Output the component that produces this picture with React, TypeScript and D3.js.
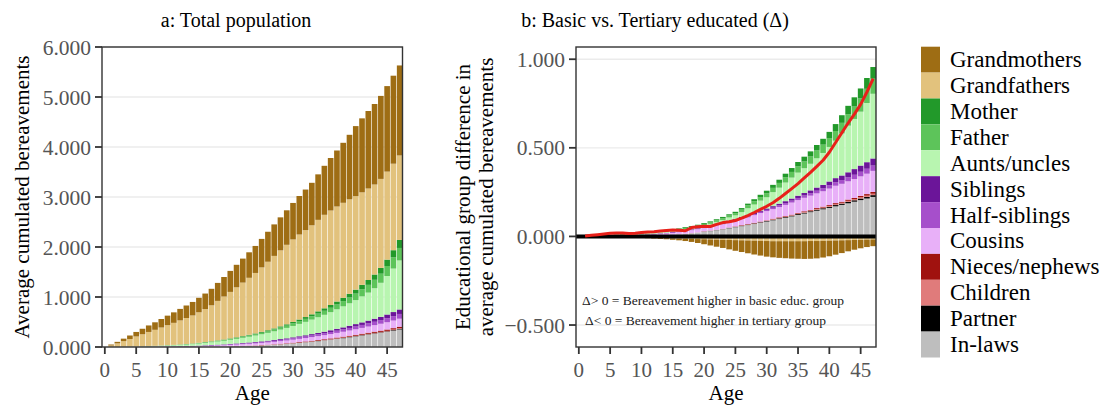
import React from "react";
import * as d3 from "d3";

// ---------- DATA ----------
const ages = [1,2,3,4,5,6,7,8,9,10,11,12,13,14,15,16,17,18,19,20,21,22,23,24,25,26,27,28,29,30,31,32,33,34,35,36,37,38,39,40,41,42,43,44,45,46,47];

const categories = ["Grandmothers","Grandfathers","Mother","Father","Aunts/uncles","Siblings","Half-siblings","Cousins","Nieces/nephews","Children","Partner","In-laws"];
const colors = ["#9E6D14","#E2C27D","#22992A","#5DC45A","#B8F5B0","#6B1599","#A64FCB","#E8B0F8","#A0120F","#E07B7B","#000000","#BEBEBE"];

const xTicks = [0,5,10,15,20,25,30,35,40,45];
const yTicksA = [0,1,2,3,4,5,6];
const yTicksB = [-0.5,0,0.5,1];

// Panel a: total population
const grandmothersA = [0.02,0.03,0.05,0.07,0.09,0.11,0.13,0.15,0.17,0.19,0.21,0.23,0.25,0.27,0.29,0.31,0.33,0.36,0.39,0.42,0.45,0.48,0.51,0.54,0.57,0.6,0.63,0.66,0.69,0.73,0.77,0.81,0.85,0.91,0.98,1.05,1.12,1.2,1.29,1.4,1.48,1.55,1.61,1.66,1.71,1.76,1.8];
const grandfathersA = [0.03,0.07,0.11,0.15,0.2,0.24,0.28,0.32,0.36,0.4,0.44,0.48,0.52,0.56,0.61,0.66,0.72,0.79,0.86,0.93,1.0,1.07,1.14,1.21,1.29,1.37,1.45,1.52,1.59,1.65,1.7,1.74,1.78,1.83,1.87,1.89,1.9,1.9,1.89,1.87,1.85,1.83,1.8,1.78,1.76,1.73,1.69];
const motherA = [0,0,0.001,0.001,0.001,0.001,0.002,0.002,0.002,0.003,0.003,0.004,0.004,0.005,0.005,0.006,0.007,0.008,0.009,0.01,0.011,0.012,0.014,0.015,0.017,0.019,0.021,0.024,0.027,0.03,0.033,0.036,0.04,0.045,0.05,0.055,0.06,0.066,0.073,0.08,0.088,0.097,0.106,0.116,0.128,0.142,0.16];
const fatherA = [0,0.001,0.001,0.002,0.002,0.002,0.003,0.003,0.004,0.005,0.005,0.006,0.007,0.008,0.01,0.011,0.012,0.014,0.016,0.018,0.02,0.022,0.025,0.027,0.03,0.033,0.037,0.041,0.045,0.05,0.055,0.06,0.066,0.073,0.08,0.088,0.096,0.105,0.116,0.13,0.142,0.155,0.168,0.182,0.2,0.225,0.25];
const auntsA = [0,0.001,0.002,0.003,0.004,0.006,0.008,0.01,0.013,0.016,0.02,0.024,0.029,0.035,0.041,0.048,0.055,0.063,0.072,0.082,0.092,0.103,0.115,0.128,0.142,0.157,0.173,0.19,0.208,0.227,0.247,0.268,0.29,0.313,0.337,0.362,0.39,0.42,0.45,0.48,0.52,0.56,0.61,0.68,0.77,0.87,0.98];
const siblingsA = [0,0,0.001,0.001,0.001,0.001,0.002,0.002,0.002,0.003,0.003,0.004,0.004,0.005,0.006,0.007,0.007,0.008,0.009,0.01,0.011,0.012,0.013,0.014,0.015,0.016,0.017,0.019,0.02,0.022,0.024,0.026,0.028,0.03,0.032,0.035,0.038,0.041,0.044,0.048,0.052,0.056,0.061,0.066,0.075,0.082,0.09];
const halfSiblingsA = [0,0,0.001,0.001,0.001,0.002,0.002,0.002,0.003,0.003,0.004,0.004,0.005,0.005,0.006,0.007,0.008,0.009,0.01,0.011,0.012,0.013,0.014,0.016,0.017,0.019,0.021,0.022,0.024,0.026,0.028,0.03,0.032,0.035,0.038,0.041,0.044,0.047,0.051,0.055,0.059,0.063,0.068,0.073,0.08,0.088,0.095];
const cousinsA = [0,0.001,0.001,0.002,0.002,0.003,0.004,0.005,0.006,0.007,0.008,0.01,0.011,0.013,0.015,0.017,0.019,0.022,0.024,0.027,0.03,0.033,0.036,0.039,0.042,0.045,0.049,0.052,0.056,0.06,0.064,0.068,0.073,0.077,0.082,0.087,0.093,0.098,0.104,0.11,0.116,0.123,0.13,0.137,0.145,0.152,0.16];
const niecesA = [0,0,0,0,0,0,0,0,0,0,0,0,0,0,0.001,0.001,0.002,0.002,0.002,0.003,0.003,0.004,0.004,0.005,0.006,0.006,0.007,0.008,0.009,0.01,0.011,0.012,0.013,0.014,0.015,0.016,0.017,0.018,0.019,0.02,0.021,0.022,0.024,0.025,0.027,0.028,0.03];
const childrenA = [0,0,0,0,0,0,0,0,0,0,0,0,0,0,0,0,0,0,0,0.001,0.001,0.001,0.001,0.001,0.002,0.002,0.002,0.003,0.003,0.004,0.004,0.004,0.005,0.005,0.006,0.006,0.007,0.007,0.008,0.008,0.009,0.01,0.01,0.011,0.012,0.012,0.013];
const partnerA = [0,0,0,0,0,0,0,0,0,0,0,0,0,0,0,0,0,0,0,0,0,0,0,0,0.001,0.001,0.001,0.002,0.002,0.002,0.003,0.003,0.003,0.004,0.004,0.005,0.005,0.006,0.006,0.007,0.008,0.008,0.009,0.01,0.011,0.012,0.013];
const inLawsA = [0,0,0,0,0,0,0,0,0,0,0,0,0,0,0,0.002,0.004,0.006,0.008,0.01,0.014,0.018,0.022,0.026,0.03,0.037,0.044,0.052,0.06,0.07,0.081,0.092,0.104,0.117,0.13,0.145,0.16,0.176,0.193,0.21,0.228,0.246,0.264,0.282,0.3,0.325,0.35];

// Panel b: basic minus tertiary (difference)
const grandmothersB = [0,0,0,0,0,0,-0.001,-0.001,-0.002,-0.002,-0.003,-0.004,-0.005,-0.006,-0.008,-0.01,-0.013,-0.017,-0.022,-0.028,-0.034,-0.04,-0.046,-0.053,-0.06,-0.066,-0.072,-0.078,-0.083,-0.088,-0.091,-0.094,-0.096,-0.098,-0.099,-0.1,-0.1,-0.098,-0.094,-0.088,-0.08,-0.072,-0.063,-0.055,-0.048,-0.042,-0.038];
const grandfathersB = [0,0,0,0,-0.001,-0.002,-0.003,-0.004,-0.005,-0.006,-0.007,-0.008,-0.009,-0.01,-0.011,-0.012,-0.013,-0.014,-0.015,-0.016,-0.017,-0.018,-0.019,-0.02,-0.021,-0.022,-0.023,-0.024,-0.025,-0.026,-0.027,-0.027,-0.027,-0.027,-0.027,-0.027,-0.026,-0.026,-0.025,-0.024,-0.023,-0.022,-0.021,-0.02,-0.019,-0.018,-0.017];
const motherB = [0,0,0.001,0.001,0.001,0.002,0.002,0.002,0.003,0.003,0.003,0.003,0.004,0.004,0.004,0.004,0.005,0.005,0.005,0.005,0.006,0.006,0.007,0.007,0.008,0.009,0.01,0.012,0.013,0.015,0.017,0.018,0.02,0.022,0.025,0.027,0.029,0.031,0.033,0.035,0.039,0.043,0.047,0.052,0.056,0.061,0.066];
const fatherB = [0,0.001,0.001,0.001,0.002,0.002,0.003,0.003,0.003,0.004,0.004,0.004,0.005,0.005,0.005,0.006,0.006,0.006,0.007,0.007,0.008,0.009,0.01,0.011,0.012,0.014,0.016,0.018,0.02,0.022,0.024,0.027,0.03,0.032,0.035,0.038,0.041,0.044,0.047,0.05,0.055,0.06,0.065,0.07,0.075,0.08,0.085];
const auntsB = [0.001,0,0.001,0.002,0.002,0.002,0.003,0.005,0.005,0.006,0.007,0.007,0.006,0.007,0.007,0.006,0.006,0.007,0.007,0.008,0.009,0.012,0.015,0.018,0.02,0.027,0.039,0.047,0.056,0.063,0.079,0.09,0.105,0.118,0.13,0.14,0.15,0.165,0.18,0.195,0.211,0.237,0.263,0.283,0.304,0.334,0.365];
const siblingsB = [0,0,0,0,0.001,0.001,0.001,0.001,0.001,0.002,0.002,0.002,0.002,0.002,0.003,0.003,0.003,0.003,0.003,0.004,0.004,0.004,0.005,0.005,0.005,0.006,0.006,0.007,0.007,0.008,0.009,0.01,0.011,0.012,0.013,0.014,0.016,0.018,0.02,0.022,0.024,0.026,0.029,0.032,0.035,0.037,0.04];
const halfSiblingsB = [0,0,0,0,0,0,0.001,0.001,0.001,0.001,0.001,0.002,0.002,0.002,0.002,0.002,0.003,0.003,0.003,0.003,0.004,0.004,0.004,0.005,0.005,0.005,0.006,0.006,0.007,0.007,0.008,0.009,0.01,0.011,0.012,0.013,0.014,0.015,0.016,0.018,0.019,0.021,0.022,0.024,0.026,0.028,0.03];
const cousinsB = [0,0,0.001,0.001,0.001,0.002,0.002,0.002,0.003,0.004,0.005,0.006,0.008,0.009,0.01,0.012,0.014,0.016,0.018,0.019,0.021,0.024,0.026,0.029,0.032,0.035,0.038,0.043,0.048,0.052,0.054,0.058,0.063,0.068,0.072,0.076,0.08,0.083,0.087,0.093,0.098,0.101,0.103,0.107,0.11,0.115,0.119];
const niecesB = [0,0,0,0,0,0,0,0,0,0,0,0,0,0,0,0,0,0,0,0.001,0.001,0.001,0.001,0.001,0.001,0.002,0.002,0.002,0.002,0.002,0.003,0.003,0.003,0.003,0.004,0.004,0.004,0.005,0.005,0.005,0.006,0.006,0.007,0.007,0.008,0.009,0.01];
const childrenB = [0,0,0,0,0,0,0,0,0,0,0,0,0,0,0,0,0,0.001,0.001,0.001,0.001,0.001,0.001,0.001,0.002,0.002,0.002,0.002,0.002,0.002,0.003,0.003,0.003,0.003,0.003,0.004,0.004,0.004,0.004,0.005,0.005,0.005,0.006,0.006,0.007,0.007,0.008];
const partnerB = [0,0,0,0,0,0,0,0,0,0,0,0,0,0,0,0,0,0,0,0.001,0.001,0.001,0.001,0.002,0.002,0.002,0.002,0.003,0.003,0.003,0.003,0.004,0.004,0.004,0.005,0.005,0.005,0.006,0.006,0.006,0.007,0.007,0.008,0.008,0.009,0.009,0.01];
const inLawsB = [0,0,0,0,0.001,0.001,0.001,0.002,0.002,0.003,0.004,0.005,0.006,0.008,0.01,0.012,0.015,0.018,0.022,0.026,0.03,0.035,0.04,0.046,0.052,0.058,0.064,0.07,0.077,0.084,0.091,0.098,0.105,0.113,0.121,0.129,0.137,0.145,0.153,0.161,0.17,0.178,0.187,0.196,0.205,0.214,0.223];
const totalDiffB = [0.002,0.006,0.01,0.014,0.018,0.02,0.019,0.016,0.018,0.022,0.025,0.027,0.03,0.033,0.036,0.035,0.032,0.05,0.055,0.058,0.056,0.068,0.078,0.083,0.09,0.103,0.118,0.135,0.153,0.17,0.19,0.215,0.242,0.27,0.298,0.33,0.362,0.395,0.43,0.475,0.53,0.585,0.64,0.69,0.745,0.815,0.89];

const seriesA = [grandmothersA, grandfathersA, motherA, fatherA, auntsA, siblingsA, halfSiblingsA, cousinsA, niecesA, childrenA, partnerA, inLawsA];
const seriesB = [grandmothersB, grandfathersB, motherB, fatherB, auntsB, siblingsB, halfSiblingsB, cousinsB, niecesB, childrenB, partnerB, inLawsB];

// ---------- LAYOUT ----------
const W = 1108, H = 408;
const FONT = "Liberation Serif";
const PT = 47, PB = 347;
const panelA = { x0: 102, x1: 402.5 };
const panelB = { x0: 576, x1: 876 };

function buildRows(series: number[][]) {
  return ages.map((a, i) => {
    const r: any = { age: a };
    categories.forEach((c, k) => { r[c] = series[k][i]; });
    return r;
  });
}

// stacking: In-laws at bottom, Grandmothers at top (reverse legend order)
const stackKeys = categories.slice().reverse();
const colorOf = d3.scaleOrdinal<string, string>().domain(categories).range(colors);

function Panel({ px, yDomain, yTicks, series, diff }: any) {
  const x = d3.scaleLinear().domain([-0.45, 47.45]).range([px.x0, px.x1]);
  const y = d3.scaleLinear().domain(yDomain).range([PB, PT]);
  const rows = buildRows(series);
  const stacked = d3.stack().keys(stackKeys).offset(d3.stackOffsetDiverging)(rows as any);
  const bw = (x(0.9) - x(0));
  const fmt = d3.format(".3f");
  const line = d3.line<number>().x((_, i) => x(ages[i])).y((v) => y(v));
  return (
    <g>
      <rect x={px.x0} y={PT} width={px.x1 - px.x0} height={PB - PT} fill="#fff" />
      {yTicks.map((t: number) => (
        <line key={"g" + t} x1={px.x0} x2={px.x1} y1={y(t)} y2={y(t)} stroke="#EBEBEB" strokeWidth={1.4} />
      ))}
      {stacked.map((s: any) => (
        <g key={s.key} fill={colorOf(s.key)}>
          {s.map((d: any, i: number) => {
            const y0 = y(d[0]), y1 = y(d[1]);
            const h = Math.abs(y0 - y1);
            if (h <= 0) return null;
            return <rect key={i} x={x(ages[i]) - bw / 2} y={Math.min(y0, y1)} width={bw} height={h} />;
          })}
        </g>
      ))}
      {diff && (
        <g>
          <line x1={px.x0} x2={px.x1} y1={y(0)} y2={y(0)} stroke="#000" strokeWidth={4} />
          <path d={line(totalDiffB) || ""} fill="none" stroke="#E8201A" strokeWidth={3} strokeLinejoin="round" />
          <text x={582} y={305} fontSize={13.5} fill="#222">Δ&gt; 0 = Bereavement higher in basic educ. group</text>
          <text x={585} y={325} fontSize={13.5} fill="#222">Δ&lt; 0 = Bereavement higher in tertiary group</text>
        </g>
      )}
      <rect x={px.x0} y={PT} width={px.x1 - px.x0} height={PB - PT} fill="none" stroke="#333" strokeWidth={1.4} />
      {yTicks.map((t: number) => (
        <g key={"yt" + t}>
          <line x1={px.x0 - 7} x2={px.x0} y1={y(t)} y2={y(t)} stroke="#333" strokeWidth={1.8} />
          <text x={px.x0 - 11} y={y(t)} dy="0.35em" textAnchor="end" fontSize={21.5} fill="#555">{fmt(t)}</text>
        </g>
      ))}
      {xTicks.map((t) => (
        <g key={"xt" + t}>
          <line x1={x(t)} x2={x(t)} y1={PB} y2={PB + 7} stroke="#333" strokeWidth={1.8} />
          <text x={x(t)} y={377} textAnchor="middle" fontSize={21} fill="#555">{t}</text>
        </g>
      ))}
      <text x={(px.x0 + px.x1) / 2} y={400} textAnchor="middle" fontSize={21} fill="#000">Age</text>
    </g>
  );
}

export default function App() {
  const keyH = 25.9, keyY0 = 46.7;
  return (
    <svg width={W} height={H} style={{ position: "absolute", left: 0, top: 0, background: "#fff", fontFamily: FONT }}>
      <rect x={0} y={0} width={W} height={H} fill="#fff" />
      <text x={236} y={27} textAnchor="middle" fontSize={20} fill="#000">a: Total population</text>
      <text x={655} y={27} textAnchor="middle" fontSize={20} fill="#000">b: Basic vs. Tertiary educated (Δ)</text>

      <Panel px={panelA} yDomain={[0, 6]} yTicks={yTicksA} series={seriesA} diff={false} />
      <Panel px={panelB} yDomain={[-0.624, 1.069]} yTicks={yTicksB} series={seriesB} diff={true} />

      <text transform="translate(22,197) rotate(-90)" dy="0.35em" textAnchor="middle" fontSize={21} fill="#000">Average cumulated bereavements</text>
      <text transform="translate(463,197) rotate(-90)" dy="0.35em" textAnchor="middle" fontSize={21} fill="#000">Educational group difference in</text>
      <text transform="translate(486,197) rotate(-90)" dy="0.35em" textAnchor="middle" fontSize={21} fill="#000">average cumulated bereavements</text>

      {categories.map((c, i) => (
        <g key={c}>
          <rect x={921} y={keyY0 + i * keyH} width={19} height={keyH} fill={colors[i]} />
          <text x={950} y={keyY0 + i * keyH + keyH / 2 + 7.5} fontSize={23} fill="#000">{c}</text>
        </g>
      ))}
    </svg>
  );
}
